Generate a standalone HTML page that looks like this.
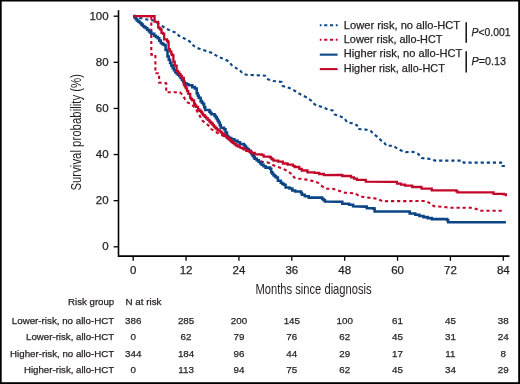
<!DOCTYPE html>
<html><head><meta charset="utf-8"><style>
html,body{margin:0;padding:0;background:#fff;overflow:hidden;width:520px;height:384px;}
svg{display:block;font-family:"Liberation Sans", sans-serif;will-change:transform;}
text{stroke:#231f20;stroke-width:0.25px;}
</style></head><body>
<svg width="520" height="384" viewBox="0 0 520 384" font-family='"Liberation Sans", sans-serif' fill="#231f20">
<rect x="0" y="0" width="520" height="1.5" fill="#000"/><rect x="0" y="0" width="1.7" height="384" fill="#000"/><rect x="518.2" y="0" width="1.8" height="384" fill="#000"/><rect x="0" y="382.2" width="520" height="1.8" fill="#000"/>
<path d="M118.5,10.3 V256.1 H509.5" fill="none" stroke="#000" stroke-width="1.6"/>
<line x1="113.6" y1="246.80" x2="118.4" y2="246.80" stroke="#000" stroke-width="1.3"/>
<text x="108.6" y="250.40" text-anchor="end" font-size="11.5">0</text>
<line x1="113.6" y1="200.68" x2="118.4" y2="200.68" stroke="#000" stroke-width="1.3"/>
<text x="108.6" y="204.28" text-anchor="end" font-size="11.5">20</text>
<line x1="113.6" y1="154.56" x2="118.4" y2="154.56" stroke="#000" stroke-width="1.3"/>
<text x="108.6" y="158.16" text-anchor="end" font-size="11.5">40</text>
<line x1="113.6" y1="108.44" x2="118.4" y2="108.44" stroke="#000" stroke-width="1.3"/>
<text x="108.6" y="112.04" text-anchor="end" font-size="11.5">60</text>
<line x1="113.6" y1="62.32" x2="118.4" y2="62.32" stroke="#000" stroke-width="1.3"/>
<text x="108.6" y="65.92" text-anchor="end" font-size="11.5">80</text>
<line x1="113.6" y1="16.20" x2="118.4" y2="16.20" stroke="#000" stroke-width="1.3"/>
<text x="108.6" y="19.80" text-anchor="end" font-size="11.5">100</text>
<line x1="133.20" y1="256" x2="133.20" y2="260.8" stroke="#000" stroke-width="1.3"/>
<text x="133.20" y="274" text-anchor="middle" font-size="11.5">0</text>
<line x1="186.07" y1="256" x2="186.07" y2="260.8" stroke="#000" stroke-width="1.3"/>
<text x="186.07" y="274" text-anchor="middle" font-size="11.5">12</text>
<line x1="238.94" y1="256" x2="238.94" y2="260.8" stroke="#000" stroke-width="1.3"/>
<text x="238.94" y="274" text-anchor="middle" font-size="11.5">24</text>
<line x1="291.81" y1="256" x2="291.81" y2="260.8" stroke="#000" stroke-width="1.3"/>
<text x="291.81" y="274" text-anchor="middle" font-size="11.5">36</text>
<line x1="344.68" y1="256" x2="344.68" y2="260.8" stroke="#000" stroke-width="1.3"/>
<text x="344.68" y="274" text-anchor="middle" font-size="11.5">48</text>
<line x1="397.55" y1="256" x2="397.55" y2="260.8" stroke="#000" stroke-width="1.3"/>
<text x="397.55" y="274" text-anchor="middle" font-size="11.5">60</text>
<line x1="450.42" y1="256" x2="450.42" y2="260.8" stroke="#000" stroke-width="1.3"/>
<text x="450.42" y="274" text-anchor="middle" font-size="11.5">72</text>
<line x1="503.29" y1="256" x2="503.29" y2="260.8" stroke="#000" stroke-width="1.3"/>
<text x="503.29" y="274" text-anchor="middle" font-size="11.5">84</text>
<text x="255.4" y="293.8" style="stroke:none" font-size="14" textLength="116.3" lengthAdjust="spacingAndGlyphs">Months since diagnosis</text>
<text style="stroke:none" transform="translate(81.0,190.6) rotate(-90)" x="0" y="0" font-size="14.6" textLength="116.6" lengthAdjust="spacingAndGlyphs">Survival probability (%)</text>
<g fill="none" stroke-width="2.3" stroke-linejoin="miter">
<polyline points="133.40,16.10 139.90,17.90 144.80,19.10 149.80,19.90 153.70,20.40 158.70,23.90 160.00,24.70 166.25,28.60 170.90,30.90 175.60,32.50 178.75,35.60 183.40,38.00 188.10,40.30 191.25,42.70 193.60,45.80 197.50,48.10 202.20,49.70 206.90,51.25 211.60,52.80 215.50,55.20 220.20,57.50 224.10,59.10 228.75,61.40 231.90,65.30 236.60,68.40 239.70,70.00 242.60,73.60 246.50,74.80 256.25,75.20 265.00,75.70 267.00,79.00 273.80,81.00 281.60,82.00 282.60,85.90 291.40,88.80 296.30,91.80 299.20,93.70 307.00,97.60 311.00,100.50 314.80,104.50 323.80,107.60 327.70,109.50 332.60,110.50 334.50,114.40 340.40,116.40 344.30,118.30 347.20,122.20 352.10,123.20 357.00,125.20 358.00,129.00 365.80,129.60 370.70,131.00 373.60,134.00 377.50,136.90 381.40,140.80 384.30,142.70 386.30,145.70 393.10,145.70 396.00,147.60 401.00,150.50 405.80,152.10 413.20,151.90 418.40,154.00 421.50,158.10 431.80,159.10 434.90,160.60 462.60,160.60 463.70,162.60 502.50,162.60 502.50,166.00 506.00,166.00" stroke="#0b4585" stroke-width="2.1" stroke-dasharray="3.2 2.9"/>
<polyline points="133.40,16.10 151.30,16.10 151.30,54.60 155.40,54.60 155.40,73.30 159.10,73.30 159.10,82.60 166.20,83.20 166.20,92.30 179.90,92.30 182.50,94.90 185.00,99.10 187.60,102.40 191.50,104.30 195.40,108.20 198.00,112.80 200.00,116.25 202.00,120.40 205.20,123.00 209.40,126.10 211.50,129.30 215.60,131.90 219.80,134.00 224.10,136.20 229.00,139.50 232.90,142.90 234.90,144.90 238.90,146.80 243.80,149.30 246.30,150.80 249.80,151.80 254.70,155.70 257.70,160.70 262.60,161.70 268.60,162.70 272.50,164.70 275.90,166.40 281.70,168.20 286.40,170.50 289.90,172.90 292.90,174.60 294.00,177.50 297.00,178.70 301.70,178.70 307.50,179.90 313.40,181.10 318.10,182.80 321.60,185.80 325.70,188.70 332.60,188.70 336.50,190.00 344.30,192.60 355.00,193.40 359.90,196.50 377.50,198.80 382.40,201.20 425.60,201.00 429.70,203.10 433.80,206.20 446.20,207.20 451.30,207.80 472.90,207.80 477.00,209.30 480.10,210.70 501.80,210.70" stroke="#c2082a" stroke-width="2.1" stroke-dasharray="3.2 2.9"/>
<polyline points="133.40,16.10 134.57,16.10 134.57,17.53 135.73,17.53 135.73,18.97 136.90,18.97 136.90,20.40 138.40,20.40 138.40,21.65 139.90,21.65 139.90,22.90 141.40,22.90 141.40,24.60 142.90,24.60 142.90,26.30 144.35,26.30 144.35,27.30 145.80,27.30 145.80,28.30 147.30,28.30 147.30,29.80 148.80,29.80 148.80,31.30 150.05,31.30 150.05,32.55 151.30,32.55 151.30,33.80 154.20,33.80 154.20,35.70 155.95,35.70 155.95,36.95 157.70,36.95 157.70,38.20 159.25,38.20 159.25,40.60 160.80,40.60 160.80,43.00 162.30,43.00 162.30,44.00 163.80,44.00 163.80,45.00 165.60,45.00 165.60,50.00 167.50,50.00 167.50,56.50 168.80,56.50 168.80,59.75 170.10,59.75 170.10,63.00 171.40,63.00 171.40,65.60 172.70,65.60 172.70,68.20 174.00,68.20 174.00,70.15 175.30,70.15 175.30,72.10 176.62,72.10 176.62,73.40 177.93,73.40 177.93,74.70 179.25,74.70 179.25,76.00 180.57,76.00 180.57,78.00 181.90,78.00 181.90,80.00 183.20,80.00 183.20,81.60 184.50,81.60 184.50,83.20 186.45,83.20 186.45,84.20 188.40,84.20 188.40,85.20 192.30,85.20 192.30,87.10 194.90,87.10 194.90,88.40 196.70,88.40 196.70,93.30 197.70,93.30 197.70,95.55 198.70,95.55 198.70,97.80 200.60,97.80 200.60,101.10 201.90,101.10 201.90,102.70 203.20,102.70 203.20,104.30 204.20,104.30 204.20,107.15 205.20,107.15 205.20,110.00 209.40,110.00 209.40,111.60 210.45,111.60 210.45,112.90 211.50,112.90 211.50,114.20 214.60,114.20 214.60,115.70 215.65,115.70 215.65,117.30 216.70,117.30 216.70,118.90 217.72,118.90 217.72,120.70 218.75,120.70 218.75,122.50 219.78,122.50 219.78,125.10 220.80,125.10 220.80,127.70 224.00,127.70 224.00,129.30 225.50,129.30 225.50,132.40 227.00,132.40 227.00,136.00 228.10,136.00 228.10,137.05 229.20,137.05 229.20,138.10 231.25,138.10 231.25,139.20 234.40,139.20 234.40,140.70 237.50,140.70 237.50,142.30 240.00,142.30 240.00,143.90 243.80,143.90 243.80,144.90 244.80,144.90 244.80,146.35 245.80,146.35 245.80,147.80 247.30,147.80 247.30,149.30 248.80,149.30 248.80,150.80 250.70,150.80 250.70,152.80 251.70,152.80 251.70,154.25 252.70,154.25 252.70,155.70 253.70,155.70 253.70,157.20 254.70,157.20 254.70,158.70 256.70,158.70 256.70,160.20 258.70,160.20 258.70,161.70 260.15,161.70 260.15,163.20 261.60,163.20 261.60,164.70 263.60,164.70 263.60,166.15 265.60,166.15 265.60,167.60 270.00,167.60 270.00,168.80 271.20,168.80 271.20,172.30 272.35,172.30 272.35,173.75 273.50,173.75 273.50,175.20 274.75,175.20 274.75,176.30 276.00,176.30 276.00,177.40 277.90,177.40 277.90,180.80 280.80,180.80 280.80,182.70 282.25,182.70 282.25,183.70 283.70,183.70 283.70,184.70 285.60,184.70 285.60,187.50 289.50,187.50 289.50,188.50 292.30,188.50 292.30,190.40 295.20,190.40 295.20,191.40 300.00,191.40 301.00,191.40 301.00,193.07 302.00,193.07 302.00,194.75 304.80,194.75 304.80,196.20 308.70,196.20 308.70,197.60 319.30,197.60 322.20,197.60 322.20,199.00 323.60,199.00 323.60,200.25 325.00,200.25 325.00,201.50 339.40,201.80 342.30,201.80 342.30,203.70 349.20,203.70 349.20,204.70 353.10,204.70 353.10,206.25 364.80,206.60 366.80,206.60 366.80,208.20 373.60,208.20 373.60,208.60 374.60,208.60 374.60,211.50 407.80,211.50 409.70,211.50 409.70,213.50 415.30,213.50 415.30,214.80 419.40,214.80 419.40,215.95 423.50,215.95 423.50,217.10 427.65,217.10 427.65,218.10 431.80,218.10 431.80,219.10 447.20,219.10 447.20,220.20 448.20,220.20 448.20,222.20 505.90,222.20" stroke="#0b4585" stroke-width="2.55"/>
<polyline points="133.40,16.10 154.60,16.10 154.60,21.60 156.60,21.80 158.20,21.80 158.20,27.30 159.30,27.30 159.30,28.40 160.40,28.40 160.40,29.50 161.50,29.50 161.50,32.80 163.10,32.80 163.10,33.90 164.20,33.90 164.20,39.40 167.00,39.40 167.00,41.00 168.00,41.00 168.00,42.10 168.60,42.10 168.60,49.20 169.70,49.20 169.70,51.40 171.30,51.40 171.30,54.00 172.10,54.00 172.10,55.20 173.40,55.20 173.40,61.70 174.70,61.70 174.70,65.60 176.60,65.60 176.60,70.80 177.93,70.80 177.93,72.45 179.25,72.45 179.25,74.10 180.57,74.10 180.57,76.05 181.90,76.05 181.90,78.00 183.80,78.00 183.80,84.50 184.80,84.50 184.80,86.45 185.80,86.45 185.80,88.40 187.05,88.40 187.05,91.15 188.30,91.15 188.30,93.90 190.20,93.90 190.20,97.80 191.20,97.80 191.20,99.10 192.20,99.10 192.20,100.40 194.10,100.40 194.10,103.70 195.10,103.70 195.10,105.30 196.10,105.30 196.10,106.90 198.00,106.90 198.00,109.50 199.50,109.50 199.50,110.75 201.00,110.75 201.00,112.00 202.05,112.00 202.05,113.60 203.10,113.60 203.10,115.20 204.68,115.20 204.68,116.75 206.25,116.75 206.25,118.30 207.82,118.30 207.82,119.90 209.40,119.90 209.40,121.50 210.45,121.50 210.45,122.50 211.50,122.50 211.50,123.50 212.75,123.50 212.75,125.10 214.00,125.10 214.00,126.70 215.35,126.70 215.35,128.00 216.70,128.00 216.70,129.30 218.25,129.30 218.25,130.35 219.80,130.35 219.80,131.40 221.10,131.40 221.10,132.70 222.40,132.70 222.40,134.00 223.70,134.00 223.70,135.00 225.00,135.00 225.00,136.00 226.30,136.00 226.30,137.05 227.60,137.05 227.60,138.10 228.90,138.10 228.90,139.40 230.20,139.40 230.20,140.70 231.50,140.70 231.50,141.75 232.80,141.75 232.80,142.80 234.35,142.80 234.35,144.10 235.90,144.10 235.90,145.40 237.95,145.40 237.95,146.45 240.00,146.45 240.00,147.50 240.80,147.80 243.80,147.80 243.80,149.30 246.30,149.30 246.30,150.80 249.80,150.80 249.80,151.80 251.70,151.80 251.70,152.80 254.70,152.80 254.70,154.30 261.60,154.30 261.60,154.80 263.60,154.80 263.60,156.70 269.60,156.70 269.60,157.20 270.90,157.20 270.90,158.33 272.20,158.33 272.20,159.47 273.50,159.47 273.50,160.60 278.20,160.60 278.20,161.70 282.90,161.70 282.90,163.50 287.60,163.50 287.60,164.70 292.90,164.70 292.90,165.80 294.60,165.80 294.60,167.00 299.30,167.00 299.30,168.80 301.70,168.80 301.70,170.50 307.50,170.50 307.50,172.30 314.50,172.30 314.50,172.90 319.20,172.90 319.20,174.00 323.90,174.00 323.90,175.20 338.40,175.00 342.30,175.00 342.30,176.00 351.10,176.00 351.10,177.30 354.05,177.30 354.05,178.60 357.00,178.60 357.00,179.90 365.80,179.90 365.80,181.60 391.20,181.80 397.00,181.80 397.00,183.60 401.00,183.60 401.00,184.60 405.00,184.60 405.00,185.60 412.20,185.60 412.20,187.00 421.50,187.00 421.50,188.70 431.80,188.70 431.80,190.30 456.50,190.30 456.50,191.40 457.50,191.40 457.50,192.40 492.50,192.40 493.50,192.40 493.50,193.80 503.80,193.80 503.80,194.40 505.90,194.40 505.90,196.30" stroke="#c2082a"/>
</g>
<line x1="319.8" y1="25.2" x2="337.6" y2="25.2" stroke="#0b4585" stroke-width="2.1" stroke-dasharray="3.1 2.7" stroke-dashoffset="1.4"/>
<text x="343.8" y="28.6" font-size="11.2" textLength="116.2" lengthAdjust="spacingAndGlyphs">Lower risk, no allo-HCT</text>
<line x1="319.8" y1="39.8" x2="337.6" y2="39.8" stroke="#c2082a" stroke-width="2.1" stroke-dasharray="3.1 2.7" stroke-dashoffset="1.4"/>
<text x="343.8" y="42.6" font-size="11.2" textLength="98.7" lengthAdjust="spacingAndGlyphs">Lower risk, allo-HCT</text>
<line x1="319.8" y1="54.65" x2="337.6" y2="54.65" stroke="#0b4585" stroke-width="2.1"/>
<text x="343.8" y="57.3" font-size="11.2" textLength="118.5" lengthAdjust="spacingAndGlyphs">Higher risk, no allo-HCT</text>
<line x1="319.8" y1="69.1" x2="337.6" y2="69.1" stroke="#c2082a" stroke-width="2.1"/>
<text x="343.8" y="71.8" font-size="11.2" textLength="101" lengthAdjust="spacingAndGlyphs">Higher risk, allo-HCT</text>
<line x1="466.2" y1="22.2" x2="466.2" y2="42.7" stroke="#000" stroke-width="1.4"/>
<line x1="466.2" y1="51.3" x2="466.2" y2="72.6" stroke="#000" stroke-width="1.4"/>
<text x="471.5" y="36.2" font-size="11.6" textLength="39" lengthAdjust="spacingAndGlyphs"><tspan font-style="italic">P</tspan>&lt;0.001</text>
<text x="471.5" y="65.1" font-size="11.6" textLength="34.6" lengthAdjust="spacingAndGlyphs"><tspan font-style="italic">P</tspan>=0.13</text>
<text x="114.2" y="304.6" text-anchor="end" font-size="9.8" textLength="46.1" lengthAdjust="spacingAndGlyphs">Risk group</text>
<text x="125.5" y="304.6" font-size="9.8">N at risk</text>
<text x="114.2" y="323.9" text-anchor="end" font-size="9.8" textLength="102.4" lengthAdjust="spacingAndGlyphs">Lower-risk, no allo-HCT</text>
<text x="133.20" y="323.9" text-anchor="middle" font-size="9.8">386</text>
<text x="186.07" y="323.9" text-anchor="middle" font-size="9.8">285</text>
<text x="238.94" y="323.9" text-anchor="middle" font-size="9.8">200</text>
<text x="291.81" y="323.9" text-anchor="middle" font-size="9.8">145</text>
<text x="344.68" y="323.9" text-anchor="middle" font-size="9.8">100</text>
<text x="397.55" y="323.9" text-anchor="middle" font-size="9.8">61</text>
<text x="450.42" y="323.9" text-anchor="middle" font-size="9.8">45</text>
<text x="503.29" y="323.9" text-anchor="middle" font-size="9.8">38</text>
<text x="114.2" y="340.4" text-anchor="end" font-size="9.8" textLength="88.1" lengthAdjust="spacingAndGlyphs">Lower-risk, allo-HCT</text>
<text x="133.20" y="340.4" text-anchor="middle" font-size="9.8">0</text>
<text x="186.07" y="340.4" text-anchor="middle" font-size="9.8">62</text>
<text x="238.94" y="340.4" text-anchor="middle" font-size="9.8">79</text>
<text x="291.81" y="340.4" text-anchor="middle" font-size="9.8">76</text>
<text x="344.68" y="340.4" text-anchor="middle" font-size="9.8">62</text>
<text x="397.55" y="340.4" text-anchor="middle" font-size="9.8">45</text>
<text x="450.42" y="340.4" text-anchor="middle" font-size="9.8">31</text>
<text x="503.29" y="340.4" text-anchor="middle" font-size="9.8">24</text>
<text x="114.2" y="356.9" text-anchor="end" font-size="9.8" textLength="104.1" lengthAdjust="spacingAndGlyphs">Higher-risk, no allo-HCT</text>
<text x="133.20" y="356.9" text-anchor="middle" font-size="9.8">344</text>
<text x="186.07" y="356.9" text-anchor="middle" font-size="9.8">184</text>
<text x="238.94" y="356.9" text-anchor="middle" font-size="9.8">96</text>
<text x="291.81" y="356.9" text-anchor="middle" font-size="9.8">44</text>
<text x="344.68" y="356.9" text-anchor="middle" font-size="9.8">29</text>
<text x="397.55" y="356.9" text-anchor="middle" font-size="9.8">17</text>
<text x="450.42" y="356.9" text-anchor="middle" font-size="9.8">11</text>
<text x="503.29" y="356.9" text-anchor="middle" font-size="9.8">8</text>
<text x="114.2" y="373.2" text-anchor="end" font-size="9.8" textLength="90.2" lengthAdjust="spacingAndGlyphs">Higher-risk, allo-HCT</text>
<text x="133.20" y="373.2" text-anchor="middle" font-size="9.8">0</text>
<text x="186.07" y="373.2" text-anchor="middle" font-size="9.8">113</text>
<text x="238.94" y="373.2" text-anchor="middle" font-size="9.8">94</text>
<text x="291.81" y="373.2" text-anchor="middle" font-size="9.8">75</text>
<text x="344.68" y="373.2" text-anchor="middle" font-size="9.8">62</text>
<text x="397.55" y="373.2" text-anchor="middle" font-size="9.8">45</text>
<text x="450.42" y="373.2" text-anchor="middle" font-size="9.8">34</text>
<text x="503.29" y="373.2" text-anchor="middle" font-size="9.8">29</text>
</svg>
</body></html>
